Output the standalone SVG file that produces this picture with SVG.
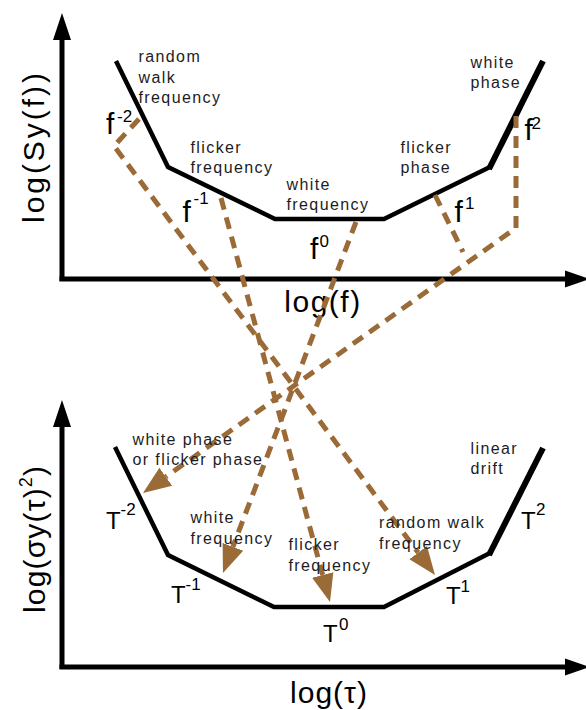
<svg xmlns="http://www.w3.org/2000/svg" width="586" height="710" viewBox="0 0 586 710">
<defs>
<style>
.ax{stroke:#000;stroke-width:5;fill:none}
.ah{fill:#000}
.cv{stroke:#000;stroke-width:4.5;fill:none;stroke-linejoin:miter}
.cvt{stroke:#000;stroke-width:6;fill:none}
.lb{font-family:"Liberation Sans",Arial,sans-serif;font-size:16px;letter-spacing:1.4px;fill:#1c1c24}
.ex{font-family:"Liberation Sans",Arial,sans-serif;font-size:30px;fill:#000}
.tt{font-family:"Liberation Sans",Arial,sans-serif;font-size:24px;fill:#000}
.sp{font-size:17px}
.ttl{font-family:"Liberation Sans",Arial,sans-serif;font-size:30px;fill:#000}
.dl{stroke:#9a6a37;stroke-width:5;fill:none;stroke-dasharray:12 8}
</style>
<marker id="tri" markerUnits="userSpaceOnUse" viewBox="0 -12 30 24" markerWidth="30" markerHeight="24" refX="0" refY="0" orient="auto"><path d="M0,-11 L28,0 L0,11 Z" fill="#9a6a37"/></marker>
</defs>
<rect width="586" height="710" fill="#fff"/>

<g id="axes-top">
<line class="ax" x1="62" y1="36" x2="62" y2="281"/>
<line class="ax" x1="59.5" y1="279" x2="568" y2="279"/>
<polygon class="ah" points="62,13 53,40 71,40"/>
<polygon class="ah" points="590,279 565,270.5 565,287.5"/>
<text class="ttl" transform="rotate(-90)" x="-223" y="44" textLength="150" lengthAdjust="spacing">log(Sy(f))</text>
<text class="ttl" x="323" y="312" text-anchor="middle" letter-spacing="1.5">log(f)</text>
</g>

<g id="axes-bottom">
<line class="ax" x1="62" y1="424" x2="62" y2="669"/>
<line class="ax" x1="59.5" y1="667" x2="568" y2="667"/>
<polygon class="ah" points="62,400 53,427 71,427"/>
<polygon class="ah" points="590,667 565,658.5 565,675.5"/>
<text class="ttl" transform="rotate(-90)" x="-613" y="45" textLength="147" lengthAdjust="spacing">log(σy(τ)<tspan font-size="18" dy="-13">2</tspan><tspan dy="13">)</tspan></text>
<text class="ttl" x="329" y="703" text-anchor="middle" letter-spacing="1">log(τ)</text>
</g>

<g id="curve-top">
<polyline class="cv" points="116,61 168,167 275,219 384,219 490,167"/>
<line class="cvt" x1="489" y1="169" x2="543" y2="61"/>
</g>

<g id="curve-bottom">
<polyline class="cv" points="115,447 168,555 274,607 384,607 490,553"/>
<line class="cvt" x1="489" y1="555" x2="543" y2="448"/>
</g>

<g id="connectors">
<path class="dl" d="M139,119 L114,146 L418.2,552.6" marker-end="url(#tri)"/>
<path class="dl" d="M221,198 L322.7,575" marker-end="url(#tri)"/>
<path class="dl" d="M356,222 L232.9,546.8" marker-end="url(#tri)"/>
<path class="dl" d="M516,116 L516,228 L165.8,476.8" marker-end="url(#tri)"/>
<path class="dl" d="M435,195 L463,252"/>
</g>

<g id="label-random-walk-frequency"><text class="lb" x="138.5" y="62">random</text><text class="lb" x="138.5" y="82.5">walk</text><text class="lb" x="138.5" y="103">frequency</text></g>
<g id="label-flicker-frequency"><text class="lb" x="190.5" y="153">flicker</text><text class="lb" x="190.5" y="173">frequency</text></g>
<g id="label-white-frequency"><text class="lb" x="286.5" y="190">white</text><text class="lb" x="286.5" y="210">frequency</text></g>
<g id="label-flicker-phase"><text class="lb" x="400.5" y="153">flicker</text><text class="lb" x="400.5" y="173">phase</text></g>
<g id="label-white-phase"><text class="lb" x="470.5" y="68">white</text><text class="lb" x="470.5" y="88">phase</text></g>

<g id="exp-f-2"><text class="ex" x="106" y="134">f<tspan class="sp" x="117" y="121.5">-2</tspan></text></g>
<g id="exp-f-1"><text class="ex" x="182.5" y="222">f<tspan class="sp" x="193.5" y="203.5">-1</tspan></text></g>
<g id="exp-f0"><text class="ex" x="310" y="258.5">f<tspan class="sp" x="319.5" y="246.5">0</tspan></text></g>
<g id="exp-f1"><text class="ex" x="454.5" y="221.5">f<tspan class="sp" x="465" y="208.5">1</tspan></text></g>
<g id="exp-f2"><text class="ex" x="524.5" y="140">f<tspan class="sp" x="531.5" y="128.5">2</tspan></text></g>

<g id="label-white-or-flicker-phase"><text class="lb" x="132.5" y="445">white phase</text><text class="lb" x="132.5" y="465">or flicker phase</text></g>
<g id="label-b-white-frequency"><text class="lb" x="190.5" y="523">white</text><text class="lb" x="190.5" y="543.5">frequency</text></g>
<g id="label-b-flicker-frequency"><text class="lb" x="288.5" y="550">flicker</text><text class="lb" x="288.5" y="571">frequency</text></g>
<g id="label-b-random-walk-frequency"><text class="lb" x="379" y="528">random walk</text><text class="lb" x="379" y="548.5">frequency</text></g>
<g id="label-linear-drift"><text class="lb" x="470.5" y="453.5">linear</text><text class="lb" x="470.5" y="474">drift</text></g>

<g id="exp-t-2"><text class="tt" x="106" y="528.5">T<tspan class="sp" x="120.5" y="515">-2</tspan></text></g>
<g id="exp-t-1"><text class="tt" x="171" y="603">T<tspan class="sp" x="185.5" y="590">-1</tspan></text></g>
<g id="exp-t0"><text class="tt" x="323" y="642">T<tspan class="sp" x="339" y="630">0</tspan></text></g>
<g id="exp-t1"><text class="tt" x="446" y="603.5">T<tspan class="sp" x="460.5" y="591.5">1</tspan></text></g>
<g id="exp-t2"><text class="tt" x="521" y="528.5">T<tspan class="sp" x="536" y="515">2</tspan></text></g>
</svg>
